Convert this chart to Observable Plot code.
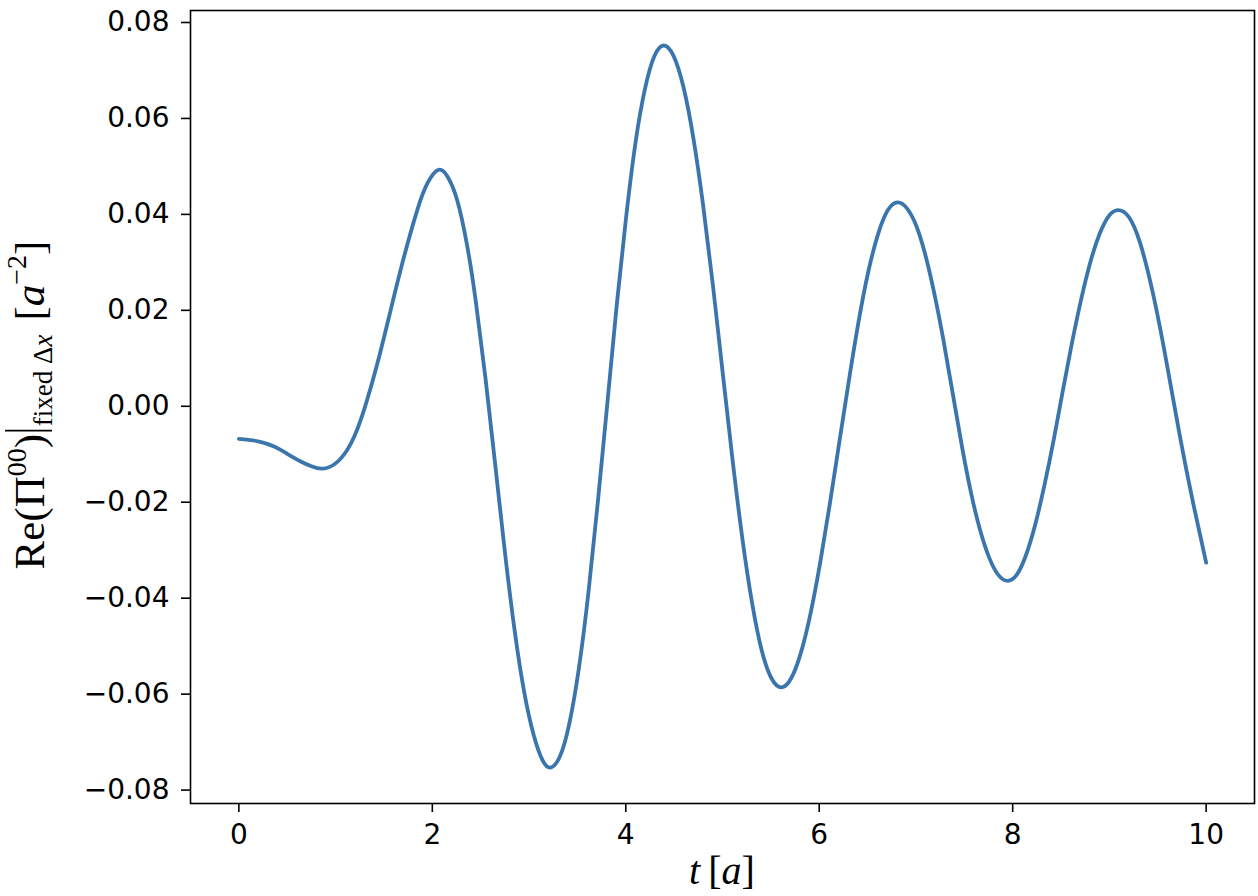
<!DOCTYPE html>
<html>
<head>
<meta charset="utf-8">
<script src="https://cdn.jsdelivr.net/npm/d3@7"></script>
<script src="https://cdn.jsdelivr.net/npm/@observablehq/plot@0.6"></script>
<style>
  html, body { margin: 0; padding: 0; background: #fff; }
  #chart svg { display: block; }
</style>
</head>
<body>
<div id="chart"></div>
<script>
// time t [a]
const tValues = [
  0.00, 0.20, 0.365, 0.50, 0.64, 0.75, 0.865, 1.00, 1.12, 1.20, 1.295, 1.433, 1.57, 1.708, 1.846, 1.95,
  2.065, 2.16, 2.258, 2.36, 2.45, 2.55, 2.65, 2.75, 2.85, 2.95, 3.05, 3.14,
  3.223, 3.321, 3.418, 3.516, 3.613, 3.711, 3.809, 3.906, 4.004, 4.101, 4.199, 4.296,
  4.394, 4.495, 4.597, 4.698, 4.799, 4.901, 5.002, 5.103, 5.205, 5.306, 5.407, 5.509,
  5.61, 5.71, 5.81, 5.91, 6.01, 6.11, 6.21, 6.31, 6.41, 6.51, 6.61, 6.71,
  6.81, 6.905, 7.000, 7.094, 7.189, 7.284, 7.379, 7.474, 7.569, 7.663, 7.758, 7.853,
  7.948, 8.043, 8.138, 8.234, 8.329, 8.424, 8.519, 8.614, 8.709, 8.805, 8.900, 8.995,
  9.09, 9.20, 9.318, 9.456, 9.594, 9.731, 9.869, 10.0
];
// Re(Pi^00) at fixed Delta x [a^-2]
const reValues = [
  -0.0068, -0.0073, -0.0084, -0.0099, -0.0115, -0.0125, -0.0130, -0.0119, -0.0091, -0.0060, -0.0007, 0.0090, 0.0201, 0.0312, 0.0410, 0.0465,
  0.0493, 0.0478, 0.0429, 0.0335, 0.0218, 0.0058, -0.0121, -0.0303, -0.0466, -0.0596, -0.0687, -0.0738,
  -0.0753, -0.0729, -0.0660, -0.0545, -0.0390, -0.0200, 0.0005, 0.0210, 0.0395, 0.0550, 0.0662, 0.0730,
  0.0752, 0.0730, 0.0665, 0.0560, 0.0420, 0.0252, 0.0070, -0.0110, -0.0275, -0.0410, -0.0510, -0.0568,
  -0.0586, -0.0567, -0.0514, -0.0432, -0.0326, -0.0203, -0.0072, 0.0058, 0.0180, 0.0283, 0.0360, 0.0409,
  0.0425, 0.0413, 0.0378, 0.0318, 0.0236, 0.0138, 0.0028, -0.0082, -0.0180, -0.0258, -0.0316, -0.0352,
  -0.0364, -0.0351, -0.0310, -0.0246, -0.0164, -0.0070, 0.0033, 0.0133, 0.0224, 0.0302, 0.0360, 0.0397,
  0.0409, 0.0395, 0.0340, 0.0230, 0.0088, -0.0065, -0.0205, -0.0326
];
const xTicks = [0, 2, 4, 6, 8, 10];
const yTicks = [-0.08, -0.06, -0.04, -0.02, 0.00, 0.02, 0.04, 0.06, 0.08];

const data = tValues.map((t, i) => ({t, v: reValues[i]}));

const chart = Plot.plot({
  width: 1258,
  height: 896,
  marginLeft: 190,
  marginRight: 4,
  marginTop: 10,
  marginBottom: 93,
  style: {fontFamily: "'DejaVu Sans'", fontSize: "28px", color: "#000", background: "#fff"},
  x: {domain: [-0.5, 10.5], label: null},
  y: {domain: [-0.0828, 0.0825], label: null},
  marks: [
    Plot.line(data, {x: "t", y: "v", stroke: "#3a75ae", strokeWidth: 3.8, curve: "natural"}),
    Plot.axisX({ticks: xTicks, tickSize: 9, tickPadding: 12, strokeWidth: 1.6, tickFormat: d => String(d), label: null, fontSize: 28}),
    Plot.axisY({ticks: yTicks, tickSize: 9, tickPadding: 12, strokeWidth: 1.6, tickFormat: d3.format(".2f"), label: null, fontSize: 28}),
    Plot.frame({stroke: "#000", strokeWidth: 1.6})
  ]
});

document.getElementById("chart").appendChild(chart);

const svg = d3.select(chart);
const serif = "'Liberation Serif', 'DejaVu Serif', serif";

// x label: t [a]
const xl = svg.append("text")
  .attr("x", 722).attr("y", 884)
  .attr("text-anchor", "middle")
  .style("font-family", serif).style("font-size", "40px").attr("fill", "#000");
xl.append("tspan").style("font-style", "italic").text("t");
xl.append("tspan").attr("dx", 8).text("[");
xl.append("tspan").style("font-style", "italic").text("a");
xl.append("tspan").text("]");

// y label (rotated group)
const yg = svg.append("g").attr("transform", "translate(44,405) rotate(-90)");
const yl = yg.append("text")
  .attr("text-anchor", "middle")
  .style("font-family", serif).style("font-size", "43px").attr("fill", "#000");
yl.append("tspan").text("Re(Π");
yl.append("tspan").style("font-size", "28px").attr("dy", -18).text("00");
yl.append("tspan").attr("dy", 18).text(")");
const barGap = yl.append("tspan").style("font-size", "34px").text("\u2009");
yl.append("tspan").style("font-size", "27px").attr("dy", 8).attr("dx", 1).text("fixed Δ");
yl.append("tspan").style("font-size", "27px").style("font-style", "italic").text("x");
yl.append("tspan").attr("dy", -8).attr("dx", 14).text("[");
yl.append("tspan").style("font-style", "italic").text("a");
yl.append("tspan").style("font-size", "28px").attr("dy", -18).text("−2");
yl.append("tspan").attr("dy", 18).text("]");

// evaluation bar |_{...}
const p0 = barGap.node().getStartPositionOfChar(0);
const p1 = barGap.node().getEndPositionOfChar(0);
const bx = (p0.x + p1.x) / 2;
yg.append("line")
  .attr("x1", bx).attr("x2", bx)
  .attr("y1", -39).attr("y2", 8)
  .attr("stroke", "#000").attr("stroke-width", 1.7);
</script>
</body>
</html>
